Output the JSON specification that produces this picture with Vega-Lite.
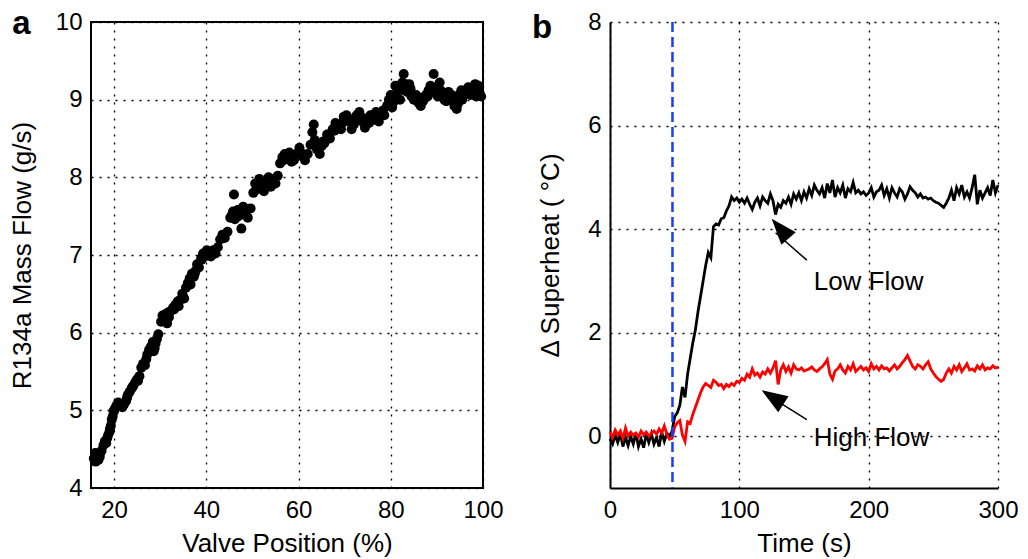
{
  "$schema": "https://vega.github.io/schema/vega-lite/v6.json",
  "background": "white",
  "padding": {"left": 8, "top": 6, "right": 5, "bottom": 5},
  "config": {
    "font": "Liberation Sans",
    "axis": {
      "labelFont": "Liberation Sans", "titleFont": "Liberation Sans",
      "labelFontSize": 24, "titleFontSize": 26, "titleFontWeight": "normal",
      "labelColor": "black", "titleColor": "black",
      "domainColor": "black", "domainWidth": 2,
      "ticks": false, "grid": true, "gridColor": "black", "gridDash": [2, 6], "gridWidth": 1.3, "gridOpacity": 1,
      "labelPadding": 10, "format": "d", "labelFlush": false, "labelOverlap": false
    }
  },
  "datasets": {
    "scatter": [
      {"valve":15.6,"flow":4.38},{"valve":16.0,"flow":4.34},{"valve":16.3,"flow":4.42},{"valve":15.9,"flow":4.45},{"valve":16.6,"flow":4.36},{"valve":16.9,"flow":4.40},{"valve":17.3,"flow":4.48},{"valve":17.7,"flow":4.55},{"valve":18.0,"flow":4.60},{"valve":18.3,"flow":4.58},{"valve":18.7,"flow":4.68},{"valve":19.0,"flow":4.72},{"valve":19.3,"flow":4.80},{"valve":19.5,"flow":4.88},{"valve":19.7,"flow":4.92},{"valve":19.9,"flow":4.98},{"valve":20.2,"flow":5.02},{"valve":20.5,"flow":5.06},{"valve":20.9,"flow":5.10},{"valve":21.3,"flow":5.08},{"valve":21.8,"flow":5.04},{"valve":22.2,"flow":5.08},{"valve":22.6,"flow":5.12},{"valve":23.0,"flow":5.20},{"valve":23.4,"flow":5.24},{"valve":23.8,"flow":5.28},{"valve":24.2,"flow":5.32},{"valve":24.6,"flow":5.36},{"valve":25.0,"flow":5.40},{"valve":25.5,"flow":5.44},{"valve":25.9,"flow":5.55},{"valve":26.3,"flow":5.60},{"valve":26.7,"flow":5.58},{"valve":27.2,"flow":5.72},{"valve":27.6,"flow":5.78},{"valve":28.0,"flow":5.82},{"valve":28.4,"flow":5.88},{"valve":28.8,"flow":5.80},{"valve":29.0,"flow":5.86},{"valve":29.6,"flow":5.98},{"valve":30.2,"flow":6.14},{"valve":30.5,"flow":6.22},{"valve":30.8,"flow":6.18},{"valve":31.2,"flow":6.24},{"valve":31.5,"flow":6.12},{"valve":31.9,"flow":6.20},{"valve":32.3,"flow":6.28},{"valve":32.8,"flow":6.32},{"valve":33.3,"flow":6.36},{"valve":33.8,"flow":6.40},{"valve":34.3,"flow":6.42},{"valve":34.8,"flow":6.50},{"valve":35.2,"flow":6.44},{"valve":35.6,"flow":6.58},{"valve":36.0,"flow":6.64},{"valve":36.4,"flow":6.70},{"valve":36.9,"flow":6.76},{"valve":37.3,"flow":6.72},{"valve":37.7,"flow":6.80},{"valve":38.0,"flow":6.88},{"valve":38.4,"flow":6.84},{"valve":38.9,"flow":6.96},{"valve":39.3,"flow":7.02},{"valve":39.7,"flow":6.98},{"valve":40.1,"flow":7.06},{"valve":40.6,"flow":7.04},{"valve":41.0,"flow":6.98},{"valve":41.5,"flow":7.06},{"valve":42.0,"flow":7.02},{"valve":42.5,"flow":7.10},{"valve":43.0,"flow":7.20},{"valve":43.5,"flow":7.26},{"valve":44.0,"flow":7.22},{"valve":44.6,"flow":7.30},{"valve":45.2,"flow":7.48},{"valve":45.6,"flow":7.52},{"valve":46.0,"flow":7.78},{"valve":46.2,"flow":7.46},{"valve":46.8,"flow":7.58},{"valve":47.3,"flow":7.52},{"valve":47.6,"flow":7.34},{"valve":48.0,"flow":7.62},{"valve":48.5,"flow":7.55},{"valve":49.0,"flow":7.48},{"valve":49.6,"flow":7.60},{"valve":50.2,"flow":7.80},{"valve":50.6,"flow":7.92},{"valve":51.0,"flow":7.86},{"valve":51.5,"flow":7.98},{"valve":52.0,"flow":7.90},{"valve":52.5,"flow":7.82},{"valve":53.0,"flow":7.94},{"valve":53.5,"flow":8.00},{"valve":54.0,"flow":7.88},{"valve":54.5,"flow":7.95},{"valve":55.0,"flow":7.92},{"valve":55.5,"flow":8.02},{"valve":56.0,"flow":8.18},{"valve":56.5,"flow":8.26},{"valve":57.0,"flow":8.30},{"valve":57.5,"flow":8.24},{"valve":58.0,"flow":8.32},{"valve":58.5,"flow":8.20},{"valve":59.0,"flow":8.22},{"valve":59.5,"flow":8.30},{"valve":60.2,"flow":8.38},{"valve":60.8,"flow":8.28},{"valve":61.4,"flow":8.22},{"valve":62.0,"flow":8.30},{"valve":62.6,"flow":8.42},{"valve":63.0,"flow":8.58},{"valve":63.3,"flow":8.68},{"valve":63.5,"flow":8.48},{"valve":64.0,"flow":8.36},{"valve":64.6,"flow":8.30},{"valve":65.0,"flow":8.40},{"valve":65.6,"flow":8.44},{"valve":66.2,"flow":8.55},{"valve":66.8,"flow":8.50},{"valve":67.4,"flow":8.62},{"valve":68.0,"flow":8.70},{"valve":68.6,"flow":8.68},{"valve":69.2,"flow":8.62},{"valve":69.8,"flow":8.78},{"valve":70.4,"flow":8.80},{"valve":71.0,"flow":8.72},{"valve":71.5,"flow":8.62},{"valve":72.0,"flow":8.68},{"valve":72.6,"flow":8.80},{"valve":73.2,"flow":8.84},{"valve":73.8,"flow":8.72},{"valve":74.4,"flow":8.64},{"valve":75.0,"flow":8.76},{"valve":75.6,"flow":8.80},{"valve":76.2,"flow":8.74},{"valve":76.8,"flow":8.84},{"valve":77.4,"flow":8.72},{"valve":78.0,"flow":8.82},{"valve":78.6,"flow":8.80},{"valve":79.2,"flow":8.92},{"valve":79.6,"flow":9.00},{"valve":80.0,"flow":9.06},{"valve":80.5,"flow":8.96},{"valve":81.0,"flow":9.18},{"valve":81.5,"flow":9.14},{"valve":82.0,"flow":9.00},{"valve":82.5,"flow":9.22},{"valve":82.8,"flow":9.33},{"valve":83.2,"flow":9.20},{"valve":83.6,"flow":9.10},{"valve":84.0,"flow":9.20},{"valve":84.5,"flow":9.04},{"valve":85.0,"flow":9.00},{"valve":85.5,"flow":9.06},{"valve":86.0,"flow":8.96},{"valve":86.5,"flow":8.92},{"valve":87.0,"flow":8.98},{"valve":87.6,"flow":9.06},{"valve":88.2,"flow":9.12},{"valve":88.6,"flow":9.18},{"valve":89.3,"flow":9.33},{"valve":89.8,"flow":9.16},{"valve":90.2,"flow":9.04},{"valve":90.6,"flow":9.22},{"valve":91.2,"flow":9.08},{"valve":91.6,"flow":9.00},{"valve":92.0,"flow":8.98},{"valve":92.5,"flow":9.10},{"valve":93.0,"flow":9.02},{"valve":93.4,"flow":8.98},{"valve":93.8,"flow":8.92},{"valve":94.3,"flow":8.88},{"valve":94.8,"flow":9.06},{"valve":95.3,"flow":9.12},{"valve":95.8,"flow":9.08},{"valve":96.3,"flow":9.10},{"valve":96.8,"flow":9.16},{"valve":97.3,"flow":9.06},{"valve":97.8,"flow":9.10},{"valve":98.3,"flow":9.20},{"valve":98.8,"flow":9.14},{"valve":99.3,"flow":9.08},{"valve":99.6,"flow":9.04},
      {"valve":16.2,"flow":4.40},{"valve":17.0,"flow":4.45},{"valve":18.5,"flow":4.64},{"valve":19.1,"flow":4.76},{"valve":20.0,"flow":5.00},{"valve":21.0,"flow":5.06},{"valve":22.8,"flow":5.16},{"valve":24.0,"flow":5.30},{"valve":25.2,"flow":5.38},{"valve":27.0,"flow":5.66},{"valve":28.6,"flow":5.76},{"valve":29.3,"flow":5.92},{"valve":30.6,"flow":6.16},{"valve":31.7,"flow":6.26},{"valve":33.0,"flow":6.30},{"valve":34.0,"flow":6.34},{"valve":35.0,"flow":6.46},{"valve":36.6,"flow":6.62},{"valve":37.5,"flow":6.76},{"valve":39.0,"flow":6.94},{"valve":40.4,"flow":7.00},{"valve":43.3,"flow":7.22},{"valve":45.8,"flow":7.56},{"valve":47.0,"flow":7.50},{"valve":48.3,"flow":7.58},{"valve":50.8,"flow":7.84},{"valve":51.8,"flow":7.94},{"valve":53.2,"flow":7.88},{"valve":54.8,"flow":7.98},{"valve":56.8,"flow":8.22},{"valve":57.8,"flow":8.28},{"valve":59.2,"flow":8.28},{"valve":60.5,"flow":8.32},{"valve":63.8,"flow":8.40},{"valve":65.3,"flow":8.46},{"valve":66.5,"flow":8.52},{"valve":67.8,"flow":8.60},{"valve":69.5,"flow":8.70},{"valve":70.8,"flow":8.76},{"valve":72.3,"flow":8.72},{"valve":73.5,"flow":8.78},{"valve":75.3,"flow":8.70},{"valve":77.0,"flow":8.78},{"valve":78.3,"flow":8.86},{"valve":80.3,"flow":8.90},{"valve":81.3,"flow":9.05},{"valve":83.0,"flow":9.12},{"valve":84.3,"flow":9.14},{"valve":86.3,"flow":9.02},{"valve":88.0,"flow":9.04},{"valve":89.0,"flow":9.10},{"valve":90.8,"flow":9.12},{"valve":92.3,"flow":9.04},{"valve":94.0,"flow":9.00},{"valve":95.5,"flow":9.00},{"valve":97.0,"flow":9.12},{"valve":98.5,"flow":9.04},{"valve":99.0,"flow":9.18},{"valve":94.5,"flow":8.94},{"valve":93.2,"flow":9.06}
    ],
    "response": [
      {"t":0,"low":-0.05,"high":0.08},{"t":2,"low":-0.15,"high":-0.02},{"t":4,"low":0.02,"high":0.12},{"t":6,"low":-0.12,"high":0.02},{"t":8,"low":0.05,"high":0.1},{"t":10,"low":-0.2,"high":-0.04},{"t":12,"low":-0.02,"high":0.16},{"t":14,"low":-0.18,"high":0.0},{"t":16,"low":0.0,"high":0.08},{"t":18,"low":-0.15,"high":0.02},{"t":20,"low":0.06,"high":0.06},{"t":22,"low":-0.2,"high":-0.02},{"t":24,"low":-0.05,"high":0.1},{"t":26,"low":-0.22,"high":0.03},{"t":28,"low":0.04,"high":0.08},{"t":30,"low":-0.12,"high":0.0},{"t":32,"low":0.05,"high":0.06},{"t":34,"low":-0.15,"high":0.1},{"t":36,"low":-0.02,"high":0.04},{"t":38,"low":-0.2,"high":0.14},{"t":40,"low":0.08,"high":0.06},{"t":42,"low":-0.1,"high":0.2},{"t":44,"low":0.06,"high":0.04},{"t":46,"low":0.0,"high":-0.06},{"t":48,"low":0.1,"high":-0.04},
      {"t":50,"low":0.38,"high":0.18},{"t":52,"low":0.45,"high":0.26},{"t":54,"low":0.6,"high":0.3},{"t":56,"low":0.95,"high":0.02},{"t":58,"low":0.75,"high":-0.1},{"t":60,"low":1.2,"high":0.28},{"t":62,"low":1.5,"high":0.25},{"t":64,"low":1.8,"high":0.42},{"t":66,"low":2.05,"high":0.56},{"t":68,"low":2.4,"high":0.7},{"t":70,"low":2.7,"high":0.84},{"t":72,"low":3.0,"high":0.95},{"t":74,"low":3.3,"high":1.02},{"t":76,"low":3.55,"high":0.98},{"t":78,"low":3.45,"high":0.94},{"t":80,"low":4.05,"high":1.08},{"t":82,"low":4.1,"high":1.04},{"t":84,"low":4.08,"high":0.98},{"t":86,"low":4.2,"high":1.0},{"t":88,"low":4.22,"high":0.92},{"t":90,"low":4.35,"high":1.0},{"t":92,"low":4.45,"high":0.96},{"t":94,"low":4.62,"high":1.02},{"t":96,"low":4.55,"high":0.98},{"t":98,"low":4.6,"high":1.06},
      {"t":100,"low":4.52,"high":1.04},{"t":102,"low":4.58,"high":1.12},{"t":104,"low":4.5,"high":1.08},{"t":106,"low":4.6,"high":1.2},{"t":108,"low":4.48,"high":1.14},{"t":110,"low":4.38,"high":1.3},{"t":112,"low":4.52,"high":1.18},{"t":114,"low":4.6,"high":1.22},{"t":116,"low":4.45,"high":1.14},{"t":118,"low":4.62,"high":1.24},{"t":120,"low":4.55,"high":1.2},{"t":122,"low":4.5,"high":1.3},{"t":124,"low":4.68,"high":1.22},{"t":126,"low":4.55,"high":1.32},{"t":128,"low":4.28,"high":1.46},{"t":130,"low":4.48,"high":1.0},{"t":132,"low":4.42,"high":1.28},{"t":134,"low":4.55,"high":1.38},{"t":136,"low":4.5,"high":1.25},{"t":138,"low":4.62,"high":1.34},{"t":140,"low":4.48,"high":1.22},{"t":142,"low":4.68,"high":1.38},{"t":144,"low":4.58,"high":1.3},{"t":146,"low":4.7,"high":1.28},{"t":148,"low":4.55,"high":1.32},
      {"t":150,"low":4.72,"high":1.26},{"t":152,"low":4.6,"high":1.28},{"t":154,"low":4.78,"high":1.3},{"t":156,"low":4.65,"high":1.34},{"t":158,"low":4.85,"high":1.28},{"t":160,"low":4.75,"high":1.25},{"t":162,"low":4.68,"high":1.3},{"t":164,"low":4.8,"high":1.34},{"t":166,"low":4.6,"high":1.4},{"t":168,"low":4.88,"high":1.48},{"t":170,"low":4.7,"high":1.2},{"t":172,"low":4.95,"high":1.1},{"t":174,"low":4.62,"high":1.26},{"t":176,"low":4.8,"high":1.3},{"t":178,"low":4.7,"high":1.38},{"t":180,"low":4.85,"high":1.28},{"t":182,"low":4.6,"high":1.22},{"t":184,"low":4.78,"high":1.35},{"t":186,"low":4.72,"high":1.28},{"t":188,"low":4.9,"high":1.4},{"t":190,"low":4.7,"high":1.25},{"t":192,"low":4.75,"high":1.3},{"t":194,"low":4.68,"high":1.35},{"t":196,"low":4.72,"high":1.28},{"t":198,"low":4.65,"high":1.32},
      {"t":200,"low":4.7,"high":1.25},{"t":202,"low":4.8,"high":1.4},{"t":204,"low":4.62,"high":1.3},{"t":206,"low":4.72,"high":1.35},{"t":208,"low":4.75,"high":1.28},{"t":210,"low":4.85,"high":1.36},{"t":212,"low":4.65,"high":1.3},{"t":214,"low":4.78,"high":1.32},{"t":216,"low":4.6,"high":1.26},{"t":218,"low":4.8,"high":1.32},{"t":220,"low":4.7,"high":1.38},{"t":222,"low":4.62,"high":1.3},{"t":224,"low":4.78,"high":1.35},{"t":226,"low":4.72,"high":1.42},{"t":228,"low":4.58,"high":1.48},{"t":230,"low":4.68,"high":1.56},{"t":232,"low":4.82,"high":1.45},{"t":234,"low":4.75,"high":1.35},{"t":236,"low":4.7,"high":1.3},{"t":238,"low":4.62,"high":1.38},{"t":240,"low":4.68,"high":1.35},{"t":242,"low":4.6,"high":1.3},{"t":244,"low":4.62,"high":1.38},{"t":246,"low":4.58,"high":1.44},{"t":248,"low":4.6,"high":1.3},
      {"t":250,"low":4.55,"high":1.22},{"t":252,"low":4.52,"high":1.15},{"t":254,"low":4.5,"high":1.1},{"t":256,"low":4.46,"high":1.06},{"t":258,"low":4.42,"high":1.1},{"t":260,"low":4.5,"high":1.22},{"t":262,"low":4.6,"high":1.3},{"t":264,"low":4.75,"high":1.22},{"t":266,"low":4.55,"high":1.35},{"t":268,"low":4.8,"high":1.28},{"t":270,"low":4.68,"high":1.38},{"t":272,"low":4.85,"high":1.25},{"t":274,"low":4.62,"high":1.32},{"t":276,"low":4.72,"high":1.4},{"t":278,"low":4.6,"high":1.28},{"t":280,"low":4.8,"high":1.3},{"t":282,"low":5.05,"high":1.26},{"t":284,"low":4.48,"high":1.36},{"t":286,"low":4.75,"high":1.3},{"t":288,"low":4.6,"high":1.38},{"t":290,"low":4.7,"high":1.28},{"t":292,"low":4.8,"high":1.32},{"t":294,"low":4.65,"high":1.3},{"t":296,"low":4.95,"high":1.36},{"t":298,"low":4.7,"high":1.32},{"t":300,"low":4.85,"high":1.33}
    ]
  },
  "hconcat": [
    {
      "width": 392,
      "height": 466,
      "view": {"stroke": "black", "strokeWidth": 2},
      "layer": [
        {
          "data": {"name": "scatter"},
          "mark": {"type": "point", "filled": true, "color": "black", "opacity": 1, "size": 100, "shape": "circle"},
          "encoding": {
            "x": {"field": "valve", "type": "quantitative", "scale": {"domain": [15, 100], "nice": false, "zero": false},
                  "axis": {"title": "Valve Position (%)", "values": [20, 40, 60, 80, 100], "titlePadding": 8, "domain": false}},
            "y": {"field": "flow", "type": "quantitative", "scale": {"domain": [4, 10], "nice": false, "zero": false},
                  "axis": {"title": "R134a Mass Flow (g/s)", "values": [4, 5, 6, 7, 8, 9, 10], "titlePadding": 20, "labelPadding": 9, "domain": false}}
          }
        },
        {
          "data": {"values": [{}]},
          "mark": {"type": "text", "text": "a", "fontSize": 33, "fontWeight": "bold", "align": "left", "baseline": "alphabetic", "font": "Liberation Sans"},
          "encoding": {"x": {"datum": -2.1}, "y": {"datum": 9.85}}
        }
      ]
    },
    {
      "width": 388,
      "height": 466,
      "view": {"stroke": null},
      "layer": [
        {
          "data": {"name": "response"},
          "transform": [{"fold": ["low", "high"], "as": ["series", "value"]}],
          "mark": {"type": "line", "strokeWidth": 2.8},
          "encoding": {
            "x": {"field": "t", "type": "quantitative", "scale": {"domain": [0, 300], "nice": false},
                  "axis": {"title": "Time (s)", "values": [0, 100, 200, 300], "titlePadding": 8}},
            "y": {"field": "value", "type": "quantitative", "scale": {"domain": [-1, 8], "nice": false, "zero": false},
                  "axis": {"title": "Δ Superheat ( °C)", "values": [0, 2, 4, 6, 8], "titlePadding": 24, "labelPadding": 9}},
            "color": {"field": "series", "type": "nominal", "scale": {"domain": ["low", "high"], "range": ["black", "#ff0000"]}, "legend": null}
          }
        },
        {
          "data": {"values": [{}]},
          "mark": {"type": "rule", "color": "#1a3cff", "strokeWidth": 2.5, "strokeDash": [10, 5]},
          "encoding": {"x": {"datum": 48.3}}
        },
        {
          "data": {"values": [{}]},
          "mark": {"type": "rule", "color": "black", "strokeWidth": 1.5},
          "encoding": {"x": {"datum": 152.2}, "y": {"datum": 3.4}, "x2": {"datum": 128}, "y2": {"datum": 3.93}}
        },
        {
          "data": {"values": [{}]},
          "mark": {"type": "point", "shape": "M0,0L-0.73,2L0.73,2Z", "size": 676, "filled": true, "color": "black", "opacity": 1, "angle": -40.5},
          "encoding": {"x": {"datum": 125}, "y": {"datum": 4.2}}
        },
        {
          "data": {"values": [{}]},
          "mark": {"type": "rule", "color": "black", "strokeWidth": 1.5},
          "encoding": {"x": {"datum": 152.2}, "y": {"datum": 0.32}, "x2": {"datum": 121}, "y2": {"datum": 0.81}}
        },
        {
          "data": {"values": [{}]},
          "mark": {"type": "point", "shape": "M0,0L-0.73,2L0.73,2Z", "size": 676, "filled": true, "color": "black", "opacity": 1, "angle": -57},
          "encoding": {"x": {"datum": 117.2}, "y": {"datum": 0.89}}
        },
        {
          "data": {"values": [{}]},
          "mark": {"type": "text", "text": "Low Flow", "fontSize": 26, "align": "left", "baseline": "alphabetic", "font": "Liberation Sans", "color": "black"},
          "encoding": {"x": {"datum": 157.5}, "y": {"datum": 2.83}}
        },
        {
          "data": {"values": [{}]},
          "mark": {"type": "text", "text": "High Flow", "fontSize": 26, "align": "left", "baseline": "alphabetic", "font": "Liberation Sans", "color": "black"},
          "encoding": {"x": {"datum": 157.5}, "y": {"datum": -0.19}}
        },
        {
          "data": {"values": [{}]},
          "mark": {"type": "text", "text": "b", "fontSize": 33, "fontWeight": "bold", "align": "left", "baseline": "alphabetic", "font": "Liberation Sans"},
          "encoding": {"x": {"datum": -60.3}, "y": {"datum": 7.7}}
        }
      ]
    }
  ],
  "spacing": 27
}
